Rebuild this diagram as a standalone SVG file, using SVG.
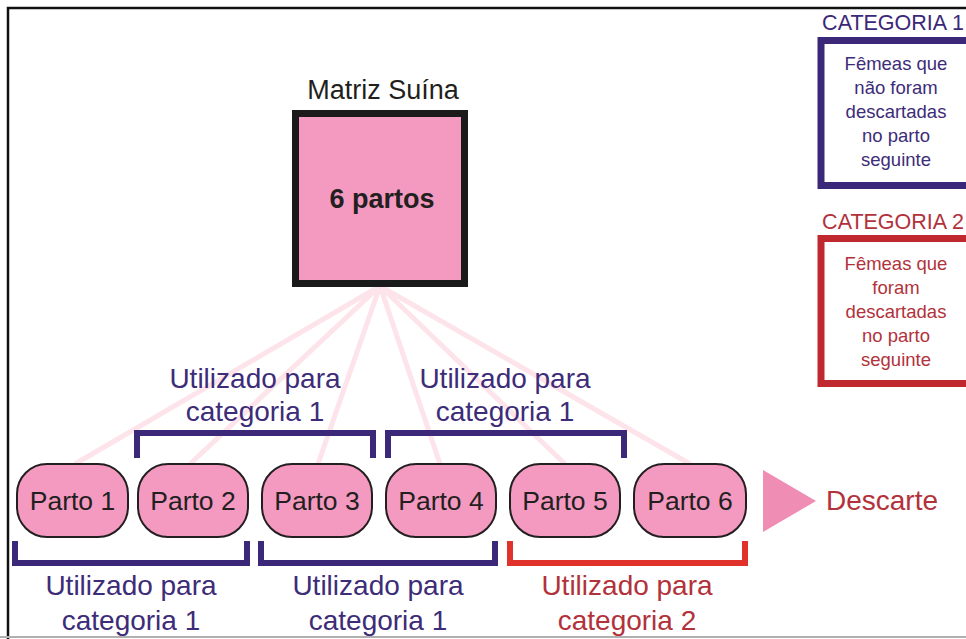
<svg xmlns="http://www.w3.org/2000/svg" width="966" height="639" viewBox="0 0 966 639">
<style>
text{font-family:"Liberation Sans","Open Sans",Arial,sans-serif;text-anchor:middle}
.node{fill:#f49ac1;stroke:#231f20;stroke-width:2}
.nt{font-size:26.5px;fill:#231f20}
.pl{font-size:28px;fill:#3d2c78}
.rl{font-size:28px;fill:#b2323b}
.pb{fill:none;stroke:#3b2878;stroke-width:6}
.rb{fill:none;stroke:#e0312b;stroke-width:6}
.ray{stroke:#fde3ea;stroke-width:5}
.ct{font-size:18.5px}
</style>
<rect width="966" height="639" fill="#fff"/>
<path d="M8 639 V8 H966" fill="none" stroke="#111" stroke-width="2.5"/>
<line x1="0" y1="637" x2="966" y2="637" stroke="#b0b0b0" stroke-width="2"/>
<g id="connectors">
<line class="ray" x1="380" y1="286" x2="75" y2="464"/>
<line class="ray" x1="380" y1="286" x2="190" y2="464"/>
<line class="ray" x1="380" y1="286" x2="318" y2="464"/>
<line class="ray" x1="380" y1="286" x2="440" y2="464"/>
<line class="ray" x1="380" y1="286" x2="565" y2="464"/>
<line class="ray" x1="380" y1="286" x2="690" y2="464"/>
<path class="pb" d="M137 458 V433 H373 V458"/>
<path class="pb" d="M388 458 V433 H624 V458"/>
<path class="pb" d="M15 541 V563 H247 V541"/>
<path class="pb" d="M261 541 V563 H495 V541"/>
<path class="rb" d="M510 541 V563 H745 V541"/>
<polygon points="763,470 763,532 816,501" fill="#f08db5"/>
</g>
<g id="matriz">
<text x="383" y="99" style="font-size:27px;fill:#231f20">Matriz Suína</text>
<rect x="295.5" y="113.5" width="169" height="170" fill="#f49ac1" stroke="#1a1a1a" stroke-width="7"/>
<text x="382" y="208" style="font-size:27px;font-weight:bold;fill:#231f20">6 partos</text>
</g>
<g id="parto1"><rect class="node" x="17" y="464" width="111" height="73" rx="30"/><text class="nt" x="72.5" y="510">Parto 1</text></g>
<g id="parto2"><rect class="node" x="138" y="464" width="110" height="73" rx="30"/><text class="nt" x="193" y="510">Parto 2</text></g>
<g id="parto3"><rect class="node" x="262" y="464" width="110" height="73" rx="30"/><text class="nt" x="317" y="510">Parto 3</text></g>
<g id="parto4"><rect class="node" x="386" y="464" width="110" height="73" rx="30"/><text class="nt" x="441" y="510">Parto 4</text></g>
<g id="parto5"><rect class="node" x="510" y="464" width="110" height="73" rx="30"/><text class="nt" x="565" y="510">Parto 5</text></g>
<g id="parto6"><rect class="node" x="634" y="464" width="112" height="73" rx="30"/><text class="nt" x="690" y="510">Parto 6</text></g>
<g id="descarte"><text class="rl" x="826" y="510" style="text-anchor:start">Descarte</text></g>
<g id="labels-top">
<text class="pl" x="255" y="388">Utilizado para</text>
<text class="pl" x="255" y="421">categoria 1</text>
<text class="pl" x="505" y="388">Utilizado para</text>
<text class="pl" x="505" y="421">categoria 1</text>
</g>
<g id="labels-bottom">
<text class="pl" x="131" y="595">Utilizado para</text>
<text class="pl" x="131" y="630">categoria 1</text>
<text class="pl" x="378" y="595">Utilizado para</text>
<text class="pl" x="378" y="630">categoria 1</text>
<text class="rl" x="627" y="595">Utilizado para</text>
<text class="rl" x="627" y="630">categoria 2</text>
</g>
<g id="categoria1">
<text x="893" y="30" style="font-size:21.5px;fill:#3b2878">CATEGORIA 1</text>
<rect x="821" y="40.5" width="150" height="145" fill="#fff" stroke="#3b2878" stroke-width="7"/>
<g class="ct" fill="#3d2c78">
<text x="896" y="70">Fêmeas que</text>
<text x="896" y="94">não foram</text>
<text x="896" y="118">descartadas</text>
<text x="896" y="142">no parto</text>
<text x="896" y="166">seguinte</text>
</g>
</g>
<g id="categoria2">
<text x="893" y="229" style="font-size:21.5px;fill:#b2323b">CATEGORIA 2</text>
<rect x="821" y="238.5" width="150" height="145" fill="#fff" stroke="#c0282f" stroke-width="7"/>
<g class="ct" fill="#b2323b">
<text x="896" y="270">Fêmeas que</text>
<text x="896" y="294">foram</text>
<text x="896" y="318">descartadas</text>
<text x="896" y="342">no parto</text>
<text x="896" y="366">seguinte</text>
</g>
</g>
</svg>
